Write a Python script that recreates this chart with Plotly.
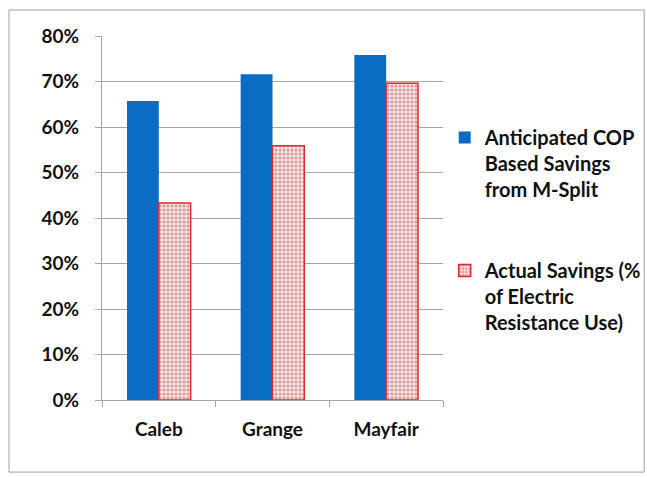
import plotly.graph_objects as go

# Savings by site
sites = ["Caleb", "Grange", "Mayfair"]
anticipated = [0.657, 0.716, 0.758]
actual = [0.433, 0.559, 0.696]

name_anticipated = "Anticipated COP<br>Based Savings<br>from M-Split"
name_actual = "Actual Savings (%<br>of Electric<br>Resistance Use)"

y_ticks = [0, 0.1, 0.2, 0.3, 0.4, 0.5, 0.6, 0.7, 0.8]

FONT = "Lato"
GRID = "#a6a6a6"

fig = go.Figure()
fig.add_trace(go.Bar(
    x=sites, y=anticipated, name=name_anticipated, legendgroup="anticipated",
    marker=dict(color="#0a6cc2", line=dict(width=0)),
))
fig.add_trace(go.Bar(
    x=sites, y=actual, name=name_actual, legendgroup="actual",
    marker=dict(
        color="#ecd6d6",
        line=dict(color="#e02a2a", width=1.5),
        pattern=dict(shape=".", fgcolor="#c05050", bgcolor="#f2e2e2",
                     size=4, solidity=0.45),
    ),
))

fig.update_layout(
    width=647, height=477,
    margin=dict(l=102, r=204, t=36, b=77, autoexpand=False),
    paper_bgcolor="white", plot_bgcolor="white",
    barmode="group", bargap=0.44, bargroupgap=0,
    font=dict(family=FONT, size=19, color="#111111"),
    showlegend=True,
    legend=dict(
        x=1.005, xanchor="left", y=0.775, yanchor="top",
        valign="top", tracegroupgap=52,
        font=dict(family=FONT, size=20, color="#111111", weight="bold"),
        bgcolor="rgba(0,0,0,0)",
    ),
    xaxis=dict(
        type="category", showline=True, linecolor=GRID, linewidth=1,
        ticks="outside", tickson="boundaries", ticklen=6, tickcolor=GRID,
        tickfont=dict(family=FONT, size=19, weight="bold"),
        ticklabelstandoff=12,
        showgrid=False,
    ),
    yaxis=dict(
        range=[0, 0.8], tickvals=y_ticks, tickformat=".0%",
        showline=True, linecolor=GRID, linewidth=1,
        ticks="outside", ticklen=6, tickcolor=GRID,
        gridcolor=GRID, gridwidth=1,
        ticklabelstandoff=12,
        tickfont=dict(family=FONT, size=19, weight="bold"),
        zeroline=False,
    ),
    shapes=[dict(
        type="rect", xref="paper", yref="paper",
        x0=-0.2727, x1=1.59, y0=-0.198, y1=1.0714,
        line=dict(color="#a0a0a0", width=1), fillcolor="rgba(0,0,0,0)",
        layer="below",
    )],
)

fig.write_html("out.html")
